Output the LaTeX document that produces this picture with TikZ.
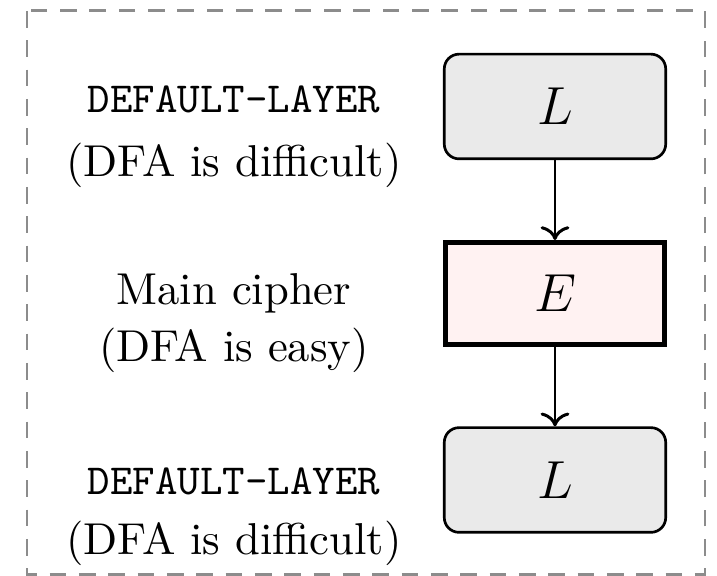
\documentclass[tikz,border=0pt]{standalone}
\usetikzlibrary{arrows.meta}
\definecolor{layerfill}{RGB}{234,234,234}
\definecolor{cipherfill}{RGB}{255,242,242}
\definecolor{framegray}{RGB}{140,140,140}
\begin{document}
\begin{tikzpicture}[x=0.224pt,y=-0.224pt,
  layerbox/.style={draw=black, line width=0.6pt, fill=layerfill,
    rounded corners=3.3pt, inner sep=0pt,
    minimum width=49.6pt, minimum height=23.45pt,
    font=\fontsize{13}{15}\selectfont},
  cipherbox/.style={draw=black, line width=1.12pt, fill=cipherfill,
    inner sep=0pt, minimum width=49.05pt, minimum height=22.85pt,
    font=\fontsize{13}{15}\selectfont},
  flow/.style={draw=black, line width=0.67pt, ->},
  ttlabel/.style={anchor=base, inner sep=0pt,
    font=\fontsize{9.6}{12}\selectfont\ttfamily},
  rmlabel/.style={anchor=base, inner sep=0pt,
    font=\fontsize{10}{12}\selectfont},
]
\useasboundingbox (0,0) rectangle (717,576);

% outer dashed frame
\draw[framegray, line width=0.67pt, dash pattern=on 3.73pt off 2.84pt]
  (27,11) rectangle (705,575);

% layer stack
\node[layerbox]  (top)    at (555,106.5) {$L$};
\node[cipherbox] (cipher) at (555,293.5) {$E$};
\node[layerbox]  (bottom) at (555,480)   {$L$};

\draw[flow] (top) -- (cipher);
\draw[flow] (cipher) -- (bottom);

% descriptions on the left
\node[ttlabel] (topname) at (234,113) {DEFAULT-LAYER};
\node[rmlabel] (topnote) at (234,177) {(DFA is difficult)};
\node[rmlabel] (midname) at (234,305) {Main cipher};
\node[rmlabel] (midnote) at (234,362) {(DFA is easy)};
\node[ttlabel] (botname) at (234,495) {DEFAULT-LAYER};
\node[rmlabel] (botnote) at (234,555) {(DFA is difficult)};
\end{tikzpicture}
\end{document}
